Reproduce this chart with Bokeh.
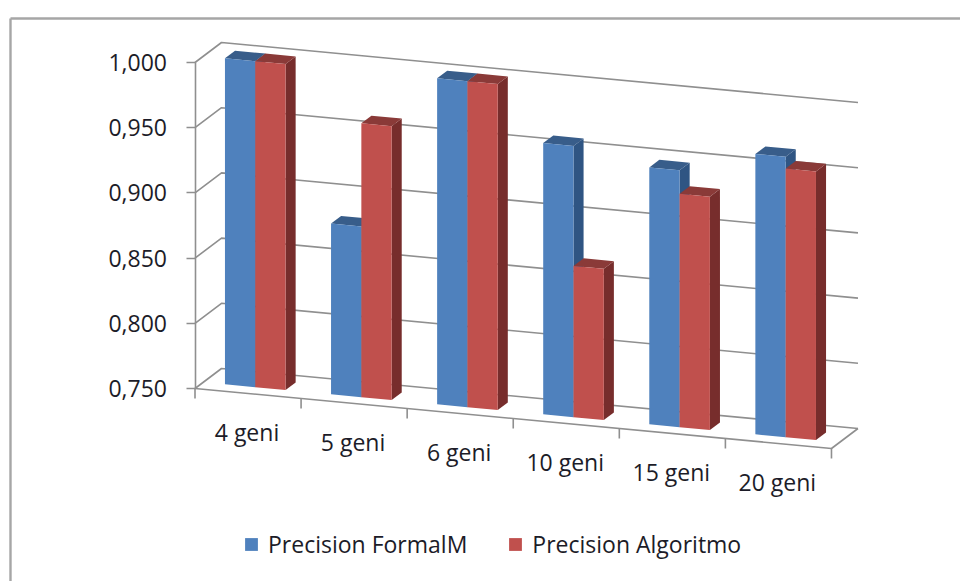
from bokeh.embed import file_html
from bokeh.resources import INLINE
from bokeh.plotting import figure
from bokeh.models import (FixedTicker, Legend, LegendItem, LinearAxis, Range1d)
from bokeh.core.properties import value

# Chart data
categories = ["4 geni", "5 geni", "6 geni", "10 geni", "15 geni", "20 geni"]
precision_formalm = [1.000, 0.881, 1.000, 0.958, 0.947, 0.965]
precision_algoritmo = [1.000, 0.960, 1.000, 0.866, 0.929, 0.956]
value_ticks = [0.750, 0.800, 0.850, 0.900, 0.950, 1.000]
value_tick_labels = ["0,750", "0,800", "0,850", "0,900", "0,950", "1,000"]
series_names = ["Precision FormalM", "Precision Algoritmo"]

WIDTH, HEIGHT = 960, 581

# Scale: pixels per category and per unit of value, and where the origin sits
PX_PER_CAT = 106.08
PX_PER_VALUE = 1304.0
ORIGIN_X, ORIGIN_Y = 194.5, 388.0
V_MIN, V_MAX = value_ticks[0], value_ticks[-1]

# Oblique projection: the floor falls to the right and depth runs up and right
SLOPE = 10.0 / PX_PER_VALUE
DEPTH_X = 26.5 / PX_PER_CAT
DEPTH_Y = 20.0 / PX_PER_VALUE

# Bar layout inside a category, and the span of the bars along the depth axis
GAP = 0.205
BAR_W = 0.2857
D_FRONT, D_BACK = 0.31, 0.69

GRID = "#8f8f8f"
TEXT = "#1c1c28"
FONT = "Open Sans"


def project(c, v, d=0.0):
    """Map category position, value and depth to plot coordinates."""
    return c + d * DEPTH_X, v - SLOPE * c + d * DEPTH_Y


def polygon(points):
    pts = [project(*pt) for pt in points]
    return [pt[0] for pt in pts], [pt[1] for pt in pts]


def polyline(p, points, width=1.6, color=GRID):
    xs, ys = polygon(points)
    p.line(xs, ys, line_color=color, line_width=width)


p = figure(
    width=WIDTH, height=HEIGHT, output_backend="svg", toolbar_location=None,
    x_range=Range1d(-ORIGIN_X / PX_PER_CAT, (WIDTH - ORIGIN_X) / PX_PER_CAT),
    y_range=Range1d(V_MIN - (HEIGHT - ORIGIN_Y) / PX_PER_VALUE, V_MIN + ORIGIN_Y / PX_PER_VALUE),
    x_axis_type=None, y_axis_type=None, min_border=0, outline_line_color=None,
    background_fill_color="white", border_fill_color="white",
)
p.grid.visible = False

n = len(categories)

# Outer frame of the chart area
FRAME_L = (10.0 - ORIGIN_X) / PX_PER_CAT
FRAME_T = V_MIN + (ORIGIN_Y - 18.0) / PX_PER_VALUE
FRAME_B = V_MIN - (HEIGHT + 5 - ORIGIN_Y) / PX_PER_VALUE
p.line([FRAME_L, FRAME_L], [FRAME_B, FRAME_T], line_color="#a6a6a6", line_width=2.4)
p.line([FRAME_L, (WIDTH + 5 - ORIGIN_X) / PX_PER_CAT], [FRAME_T, FRAME_T], line_color="#a6a6a6", line_width=2.4)

# Back wall and side wall gridlines
for t in value_ticks:
    polyline(p, [(0, t, 0), (0, t, 1), (n, t, 1)])

# Floor outline
polyline(p, [(0, V_MIN, 0), (n, V_MIN, 0), (n, V_MIN, 1)])

# Value axis, pinned to the front left corner of the floor
yaxis = LinearAxis(
    fixed_location=0,
    bounds=(V_MIN, V_MAX),
    ticker=FixedTicker(ticks=value_ticks),
    major_label_overrides=dict(zip(value_ticks, value_tick_labels)),
    major_tick_in=0, major_tick_out=9, minor_tick_line_color=None,
    axis_line_color=GRID, axis_line_width=1.6,
    major_tick_line_color=GRID, major_tick_line_width=1.6,
    major_label_text_font=FONT, major_label_text_font_size="23px",
    major_label_text_color=TEXT, major_label_standoff=19,
)
p.add_layout(yaxis, "left")

# Category ticks and labels follow the sloping floor edge
for i in range(n + 1):
    x, y = project(i, V_MIN)
    p.segment(x, y, x, y - 10.0 / PX_PER_VALUE, line_color=GRID, line_width=1.6)

label_pos = [project(i + 0.49, V_MIN) for i in range(n)]
p.text(
    x=[pt[0] for pt in label_pos], y=[pt[1] - 39.0 / PX_PER_VALUE for pt in label_pos],
    text=categories, text_font=value(FONT), text_font_size="23px",
    text_color=TEXT, text_align="center", text_baseline="middle",
)


def draw_series(values, slot, front, top, side):
    """Draw one series as boxes: side and top faces first, then the front."""
    front_xy, top_xy, side_xy = ([], []), ([], []), ([], [])
    for i, val in enumerate(values):
        a = i + GAP + slot * BAR_W
        b = a + BAR_W
        for store, pts in (
            (front_xy, [(a, V_MIN, D_FRONT), (b, V_MIN, D_FRONT), (b, val, D_FRONT), (a, val, D_FRONT)]),
            (top_xy, [(a, val, D_FRONT), (b, val, D_FRONT), (b, val, D_BACK), (a, val, D_BACK)]),
            (side_xy, [(b, V_MIN, D_FRONT), (b, V_MIN, D_BACK), (b, val, D_BACK), (b, val, D_FRONT)]),
        ):
            xs, ys = polygon(pts)
            store[0].append(xs)
            store[1].append(ys)
    p.patches(xs=side_xy[0], ys=side_xy[1], fill_color=side, line_color=None)
    p.patches(xs=top_xy[0], ys=top_xy[1], fill_color=top, line_color=None)
    return p.patches(xs=front_xy[0], ys=front_xy[1], fill_color=front, line_color=None)


blue = draw_series(precision_formalm, 0, "#4f81bd", "#385d8a", "#2f5583")
red = draw_series(precision_algoritmo, 1, "#c0504d", "#8a3a38", "#772d2c")

legend = Legend(
    items=[LegendItem(label=series_names[0], renderers=[blue]),
           LegendItem(label=series_names[1], renderers=[red])],
    orientation="horizontal", location=(243, HEIGHT - 560),
    glyph_width=16, glyph_height=16, label_standoff=9, spacing=40,
    padding=0, margin=0, border_line_color=None, background_fill_alpha=0,
    label_text_font=FONT, label_text_font_size="23px", label_text_color=TEXT,
    label_height=20,
)
p.add_layout(legend, "center")

open("out.html", "w").write(file_html(p, INLINE))
